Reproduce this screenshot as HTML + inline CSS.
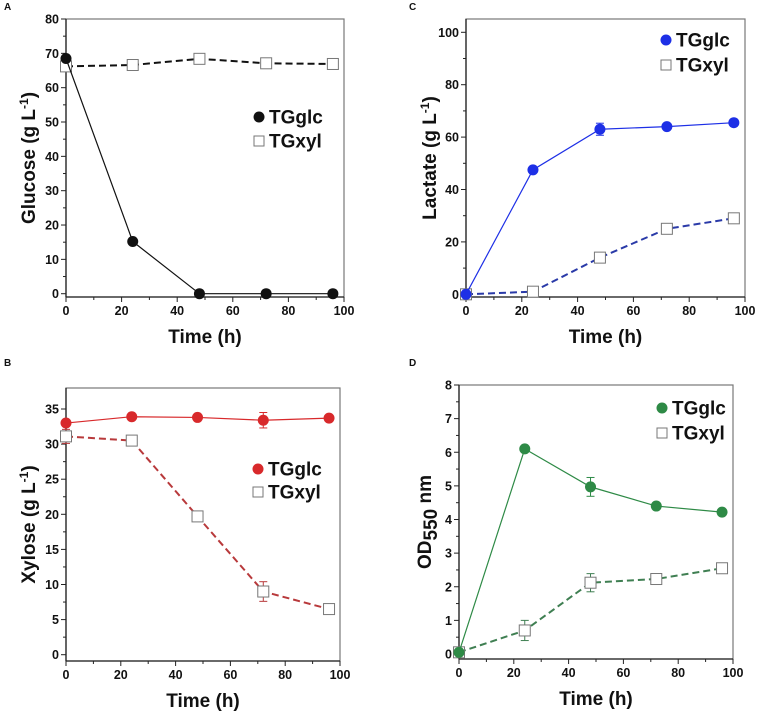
<!DOCTYPE html>
<html><head><meta charset="utf-8"><style>
html,body{margin:0;padding:0;background:#fff;}
svg{display:block;font-family:"Liberation Sans",Arial,sans-serif;}
</style></head><body>
<svg id="fig" width="758" height="712" viewBox="0 0 758 712"></svg>
<script>
const timePoints = [0, 24, 48, 72, 96];
const glucoseGlc = [68.5, 15.2, 0, 0, 0];
const glucoseXyl = [66.2, 66.6, 68.4, 67.1, 66.9];
const xyloseGlc = [33.0, 33.9, 33.8, 33.4, 33.7];
const xyloseGlcErr = [0.4, 0, 0, 1.1, 0];
const xyloseXyl = [31.1, 30.5, 19.7, 9.0, 6.5];
const xyloseXylErr = [1.0, 0, 0, 1.4, 0.5];
const lactateGlc = [0, 47.5, 63.0, 64.0, 65.5];
const lactateGlcErr = [0, 0, 2.3, 0, 0];
const lactateXyl = [0, 1.0, 14.0, 25.0, 29.0];
const odGlc = [0.05, 6.1, 4.97, 4.4, 4.22];
const odGlcErr = [0, 0, 0.28, 0, 0];
const odXyl = [0.05, 0.7, 2.12, 2.23, 2.55];
const odXylErr = [0, 0.3, 0.27, 0, 0];
const xTicks = [0, 20, 40, 60, 80, 100];
const yTicksA = [0, 10, 20, 30, 40, 50, 60, 70, 80];
const yTicksB = [0, 5, 10, 15, 20, 25, 30, 35];
const yTicksC = [0, 20, 40, 60, 80, 100];
const yTicksD = [0, 1, 2, 3, 4, 5, 6, 7, 8];

const NS = "http://www.w3.org/2000/svg";
const svg = document.getElementById('fig');
function mk(tag, attrs, parent) {
  const e = document.createElementNS(NS, tag);
  for (const k in attrs) e.setAttribute(k, attrs[k]);
  (parent || svg).appendChild(e);
  return e;
}

const panels = [
  {id:'a', letter:'A', lx:4, ly:10, L:66, R:344, T:19, B:297, y0v:0, y0p:293.7, y1v:80, y1p:19, yt:yTicksA,
   glc:glucoseGlc, glcErr:null, xyl:glucoseXyl, xylErr:null, col:'#111', col2:'#111', title:'Glucose (g L', sup:'-1', titleX:28,
   legX:259, legY:117, legY2:141},
  {id:'b', letter:'B', lx:4, ly:366, L:66, R:340, T:388, B:661, y0v:0, y0p:654.7, y1v:35, y1p:409, yt:yTicksB,
   glc:xyloseGlc, glcErr:xyloseGlcErr, xyl:xyloseXyl, xylErr:xyloseXylErr, col:'#d8292b', col2:'#b8393b', title:'Xylose (g L', sup:'-1', titleX:28,
   legX:258, legY:469, legY2:492},
  {id:'c', letter:'C', lx:409, ly:10, L:466, R:745, T:19, B:297, y0v:0, y0p:294.3, y1v:100, y1p:32.3, yt:yTicksC,
   glc:lactateGlc, glcErr:lactateGlcErr, xyl:lactateXyl, xylErr:null, col:'#1d2fe6', col2:'#2a3aa8', title:'Lactate (g L', sup:'-1', titleX:429,
   legX:666, legY:40, legY2:65},
  {id:'d', letter:'D', lx:409, ly:366, L:459, R:733, T:385, B:659, y0v:0, y0p:654, y1v:8, y1p:385, yt:yTicksD,
   glc:odGlc, glcErr:odGlcErr, xyl:odXyl, xylErr:odXylErr, col:'#2e8a46', col2:'#3f7f52', title:'OD', sub:'550', tail:' nm', titleX:424,
   legX:662, legY:408, legY2:433}
];

panels.forEach(p => {
  const g = mk('g', {});
  
  
  const xs = v => p.L + (v - 0) / 100 * (p.R - p.L);
  const ys = v => p.y0p + (v - p.y0v) / (p.y1v - p.y0v) * (p.y1p - p.y0p);

  const lab = mk('text', {x:p.lx, y:p.ly, 'font-size':10, 'font-weight':'bold', fill:'#111'}, g);
  lab.textContent = p.letter;
  
  

  const frame = mk('rect', {x:p.L, y:p.T, width:p.R - p.L, height:p.B - p.T, fill:'none', stroke:'#777', 'stroke-width':1.2}, g);
  
  
  mk('line', {x1:p.L, y1:p.T, x2:p.L, y2:p.B, stroke:'#222', 'stroke-width':1.3}, g);
  mk('line', {x1:p.L, y1:p.B, x2:p.R, y2:p.B, stroke:'#222', 'stroke-width':1.3}, g);

  // x ticks
  for (let v = 0; v <= 100; v += 10) {
    const major = v % 20 === 0;
    mk('line', {x1:xs(v), y1:p.B, x2:xs(v), y2:p.B + (major ? 5 : 3), stroke:'#222', 'stroke-width':1}, g);
  }
  xTicks.forEach(v => {
    const t = mk('text', {x:xs(v), y:p.B + 18, 'font-size':12.5, 'font-weight':'bold', 'text-anchor':'middle', fill:'#111'}, g);
    t.textContent = v;
    
    
  });
  // y ticks
  const step = p.yt[1] - p.yt[0];
  p.yt.forEach((v, i) => {
    mk('line', {x1:p.L - 5, y1:ys(v), x2:p.L, y2:ys(v), stroke:'#222', 'stroke-width':1}, g);
    if (i < p.yt.length - 1) {
      const m = v + step / 2;
      mk('line', {x1:p.L - 3, y1:ys(m), x2:p.L, y2:ys(m), stroke:'#222', 'stroke-width':1}, g);
    }
    const t = mk('text', {x:p.L - 7, y:ys(v) + 4.5, 'font-size':12.5, 'font-weight':'bold', 'text-anchor':'end', fill:'#111'}, g);
    t.textContent = v;
    
    
  });

  // axis titles
  const xt = mk('text', {x:(p.L + p.R) / 2, y:p.B + 46, 'font-size':19, 'font-weight':'bold', 'text-anchor':'middle', fill:'#111'}, g);
  xt.textContent = 'Time (h)';
  
  
  const cy = (p.T + p.B) / 2;
  const yt = mk('text', {x:0, y:0, 'font-size':19, 'font-weight':'bold', 'text-anchor':'middle', fill:'#111',
    transform:'translate(' + (p.titleX + 7) + ',' + cy + ') rotate(-90)'}, g);
  
  
  const s1 = mk('tspan', {}, yt); s1.textContent = p.title;
  if (p.sup) {
    const s2 = mk('tspan', {dy:-7, 'font-size':12}, yt); s2.textContent = p.sup;
    const s3 = mk('tspan', {dy:7}, yt); s3.textContent = ')';
  } else {
    const s2 = mk('tspan', {dy:6, 'font-size':19}, yt); s2.textContent = p.sub;
    const s3 = mk('tspan', {dy:-6}, yt); s3.textContent = p.tail;
  }

  function series(vals, errs, color, dashed, filled, name) {
    const sg = mk('g', {}, g);
    
    
    const pts = timePoints.map((t, i) => xs(t) + ',' + ys(vals[i])).join(' ');
    mk('polyline', {points:pts, fill:'none', stroke:color, 'stroke-width':dashed ? 2 : 1.2, 'stroke-dasharray':dashed ? '7,4' : 'none'}, sg);
    timePoints.forEach((t, i) => {
      const x = xs(t), y = ys(vals[i]);
      if (errs && errs[i] > 0) {
        const yl = ys(vals[i] - errs[i]), yh = ys(vals[i] + errs[i]);
        mk('line', {x1:x, y1:yl, x2:x, y2:yh, stroke:color, 'stroke-width':1}, sg);
        mk('line', {x1:x - 4, y1:yl, x2:x + 4, y2:yl, stroke:color, 'stroke-width':1}, sg);
        mk('line', {x1:x - 4, y1:yh, x2:x + 4, y2:yh, stroke:color, 'stroke-width':1}, sg);
      }
      let m;
      if (filled) m = mk('circle', {cx:x, cy:y, r:5.5, fill:color}, sg);
      else m = mk('rect', {x:x - 5.5, y:y - 5.5, width:11, height:11, fill:'#fff', stroke:'#777', 'stroke-width':1}, sg);
      
      
    });
  }
  series(p.xyl, p.xylErr, p.col2, true, false, 'series-tgxyl-' + p.id);
  series(p.glc, p.glcErr, p.col, false, true, 'series-tgglc-' + p.id);

  // legend
  const lg = mk('g', {}, g);
  
  
  mk('circle', {cx:p.legX, cy:p.legY, r:5.5, fill:p.col}, lg);
  mk('rect', {x:p.legX - 5, y:p.legY2 - 5, width:10, height:10, fill:'#fff', stroke:'#777', 'stroke-width':1}, lg);
  const l1 = mk('text', {x:p.legX + 10, y:p.legY + 6.5, 'font-size':19, 'font-weight':'bold', fill:'#111'}, lg);
  l1.textContent = 'TGglc';
  
  
  const l2 = mk('text', {x:p.legX + 10, y:p.legY2 + 6.5, 'font-size':19, 'font-weight':'bold', fill:'#111'}, lg);
  l2.textContent = 'TGxyl';
  
  
});
</script>
</body></html>
